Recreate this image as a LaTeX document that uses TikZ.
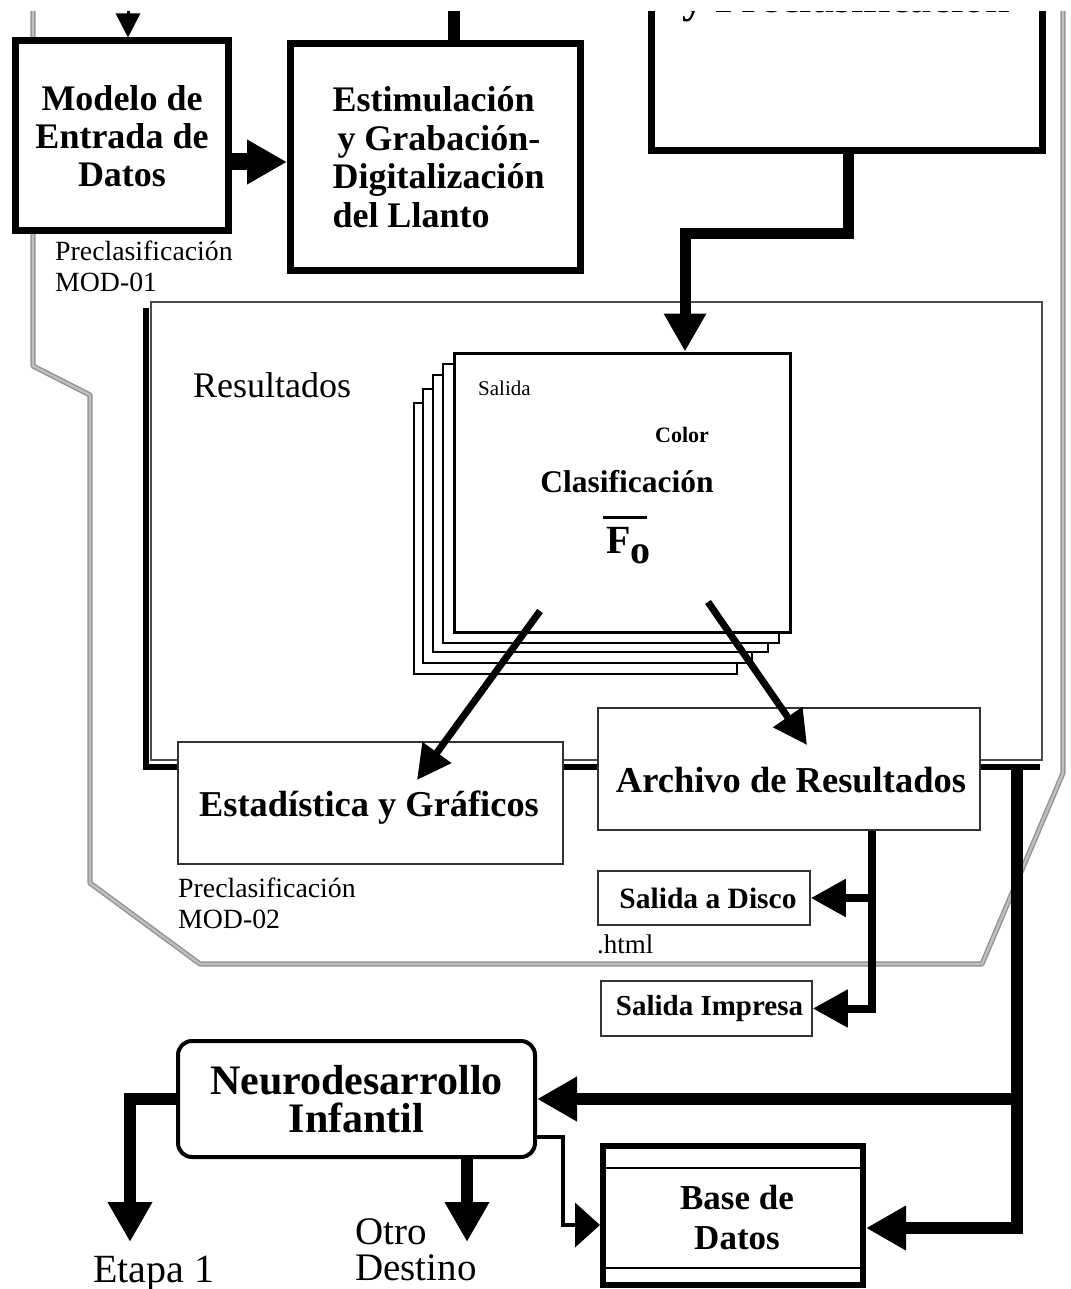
\documentclass[tikz,border=0pt]{standalone}
\usepackage{fontspec}
\setmainfont{Liberation Serif}
\usetikzlibrary{arrows.meta}
\newcommand\fsz[2]{\fontsize{#1}{#2}\selectfont}
\begin{document}
\begin{tikzpicture}[x=1pt,y=-1pt,
  bx/.style={draw=black, fill=white, inner sep=0pt},
  thn/.style={draw=black!80, fill=white, line width=1.5pt, inner sep=0pt},
  pg/.style={draw=black, fill=white, line width=1.5pt, inner sep=0pt},
  outl/.style={draw=gray!85, line width=1.4pt, double=gray!50, double distance=2.4pt, line join=bevel},
  txt/.style={inner sep=0pt},
  bigarr/.style={line width=12pt, -{Triangle[length=40pt,width=42pt]}},
  medarr/.style={line width=7pt, -{Triangle[length=34pt,width=34pt]}},
  smarr/.style={line width=8pt, -{Triangle[length=35pt,width=36pt]}}
]
\useasboundingbox (0,0) rectangle (1070,1289);
\fill[white] (0,0) rectangle (1070,1289);
\clip (0,12) rectangle (1070,1289);

% gray outline
\draw[outl] (33,-5) -- (33,366) -- (90,395) -- (90,883) -- (200,964) -- (982,964) -- (1063,773) -- (1063,-5);

% results container with shadow
\draw[line width=6pt] (146,308) -- (146,767) -- (1040,767);
\node[draw=black!70, fill=white, line width=2pt, inner sep=0pt, minimum width=891pt, minimum height=458pt] (cont) at (596.5,531) {};
\node[txt, anchor=west, font=\fsz{36}{40}] (resl) at (193,385) {Resultados};

% stacked pages
\node[pg, minimum width=323pt, minimum height=271pt] (p5) at (575.5,538.5) {};
\node[pg, minimum width=329pt, minimum height=274pt] (p4) at (587.5,526) {};
\node[pg, minimum width=335pt, minimum height=277pt] (p3) at (600.5,513.5) {};
\node[pg, minimum width=336pt, minimum height=279pt] (p2) at (611,503.5) {};
\node[pg, line width=3pt, minimum width=336pt, minimum height=279pt] (p1) at (622,492.5) {};
\node[txt, anchor=west, font=\fsz{21}{24}] (sal) at (478,388) {Salida};
\node[txt, anchor=west, font=\fsz{22}{24}\bfseries] (col) at (655,435) {Color};
\node[txt, font=\fsz{31.5}{34}\bfseries] (cla) at (627,482) {Clasificación};
\node[txt, anchor=base west, font=\fsz{40}{40}\bfseries] (fo) at (606,553) {F\raisebox{-10pt}{o}};
\draw[line width=3pt] (603,517) -- (647,517);

% top boxes
\node[bx, line width=7pt, minimum width=391pt, minimum height=251pt] (toprt) at (846.5,25.5) {};
\node[txt, anchor=base, font=\fsz{44}{44}\bfseries] (toptxt) at (846,13) {y Preclasificación};
\node[bx, line width=7pt, minimum width=213pt, minimum height=190pt, align=center, font=\fsz{36}{38}\bfseries] (modelo) at (122,136) {Modelo de\\Entrada de\\Datos};
\node[txt, anchor=west, align=left, font=\fsz{27.8}{31}] (mod1) at (55,266) {Preclasificación\\MOD-01};
\node[bx, line width=7pt, minimum width=290pt, minimum height=227pt, align=left, font=\fsz{36}{38.5}\bfseries] (estim) at (435.5,157) {\hspace*{6pt}Estimulación\\\hspace*{11pt}y Grabación-\\\hspace*{6pt}Digitalización\\\hspace*{6pt}del Llanto};

% result boxes
\node[thn, minimum width=385pt, minimum height=122pt] (estad) at (370.5,803) {};
\node[txt, font=\fsz{36.4}{38}\bfseries] (estadtxt) at (369,808) {Estadística y Gráficos};
\node[txt, anchor=west, align=left, font=\fsz{27.8}{31}] (mod2) at (178,903) {Preclasificación\\MOD-02};
\node[thn, minimum width=382pt, minimum height=122pt] (arch) at (789,769) {};
\node[txt, font=\fsz{36.5}{38}\bfseries] (archtxt) at (791,780) {Archivo de Resultados};
\node[thn, minimum width=212pt, minimum height=54pt, font=\fsz{29.5}{30}\bfseries] (disco) at (704,898) {\hspace*{8pt}Salida a Disco};
\node[txt, anchor=west, font=\fsz{27}{30}] (html) at (597,944) {.html};
\node[thn, minimum width=211pt, minimum height=55pt, font=\fsz{29}{30}\bfseries] (imp) at (706.5,1008.5) {\hspace*{6pt}Salida Impresa};

% bottom boxes
\node[bx, line width=4pt, rounded corners=14pt, minimum width=357pt, minimum height=116pt, align=center, font=\fsz{42}{38}\bfseries] (neuro) at (356.5,1099) {Neurodesarrollo\\Infantil};
\node[bx, line width=6pt, minimum width=260pt, minimum height=139pt] (base) at (733,1215.5) {};
\draw[line width=1.5pt] (606,1168) -- (860,1168);
\draw[line width=1.5pt] (606,1268) -- (860,1268);
\node[txt, align=center, font=\fsz{35}{40}\bfseries] (basetxt) at (737,1218) {Base de\\Datos};
\node[txt, anchor=base west, font=\fsz{40}{40}] (etapa) at (93,1282) {Etapa 1};
\node[txt, anchor=north west, align=left, font=\fsz{39}{36}] (otro) at (355,1218) {Otro\\Destino};

% connectors
\coordinate (inM) at (128,-30);
\draw[line width=3pt, -{Triangle[length=24pt,width=24pt]}] (inM) -- (inM |- modelo.north);
\coordinate (inE) at (454,-30);
\draw[line width=12pt] (inE) -- (inE |- estim.north);
\coordinate (mE) at (0,162);
\draw[line width=17pt, -{Triangle[length=40pt,width=42pt]}] (modelo.east |- mE) -- (estim.west |- mE);
\coordinate (k1) at (848,234);
\coordinate (k2) at (685,234);
\draw[line width=11pt, -{Triangle[length=38pt,width=40pt]}] (toprt.south -| k1) -- (k1) -- (k2) -- (k2 |- p1.north);
\coordinate (s1) at (540,611);
\coordinate (t1) at (417,780);
\coordinate (s2) at (708,602);
\coordinate (t2) at (807,745);
\draw[medarr] (s1) -- (t1);
\draw[medarr] (s2) -- (t2);
\coordinate (v1) at (872,0);
\draw[smarr] (arch.south -| v1) |- (imp.east);
\draw[smarr] (v1 |- disco.east) -- (disco.east);
\coordinate (r0) at (1017,764);
\coordinate (r1) at (1017,1228);
\draw[bigarr] (r0) -- (r1) -- (r1 -| base.east);
\draw[bigarr] (r0 |- neuro.east) -- (neuro.east);
\coordinate (e1) at (130,1242);
\coordinate (e2) at (467,1242);
\draw[bigarr] (neuro.west) -| (e1);
\draw[bigarr] (e2 |- neuro.south) -- (e2);
\coordinate (n3) at (563,1137);
\coordinate (n4) at (563,1225);
\draw[line width=4pt, -{Triangle[length=25pt,width=44pt]}] (n3 -| neuro.east) -- (n3) -- (n4) -- (n4 -| base.west);
\end{tikzpicture}
\end{document}
